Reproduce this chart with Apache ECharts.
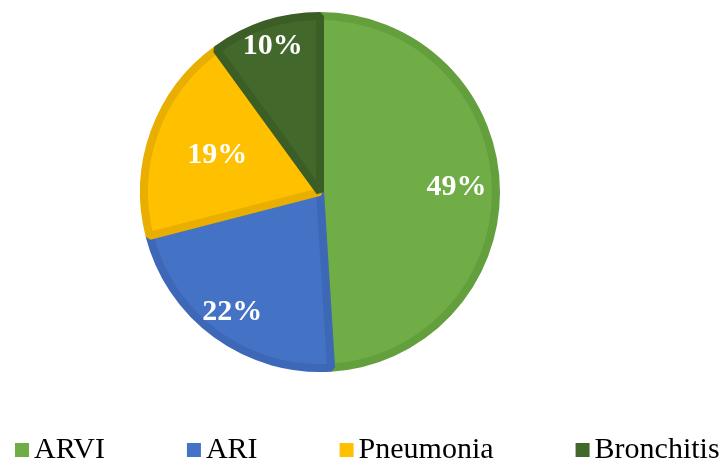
<!DOCTYPE html>
<html>
<head>
<meta charset="utf-8">
<script src="https://cdn.jsdelivr.net/npm/echarts@6/dist/echarts.min.js"></script>
<style>
  html, body { margin: 0; padding: 0; background: #fff; }
  #main { width: 720px; height: 462px; }
</style>
</head>
<body>
<div id="main"></div>
<script>
var categories = ['ARVI', 'ARI', 'Pneumonia', 'Bronchitis'];
var values = [49, 22, 19, 10];
var colors = ['#70AD47', '#4472C4', '#FFC000', '#43682B'];
var borders = ['#63A03D', '#3D68B8', '#E8AE00', '#3B5D26'];
// how far out each label sits, relative to the default inside spot
var labelPush = [1.5, 1.64, 1.2, 1.68];

var cx = 320, cy = 192;

var myChart = echarts.init(document.getElementById('main'));
var option = {
    animation: false,
    legend: {
        top: 430,
        left: 10,
        width: 710,
        icon: 'rect',
        itemWidth: 14,
        itemHeight: 14,
        itemGap: 82,
        itemStyle: { borderWidth: 0 },
        textStyle: {
            fontFamily: 'Liberation Serif',
            fontSize: 30,
            color: '#000'
        },
        data: categories
    },
    series: [{
        type: 'pie',
        center: [cx, cy],
        radius: 176,
        startAngle: 90,
        clockwise: true,
        label: {
            show: true,
            position: 'inside',
            formatter: '{c}%',
            color: '#fff',
            fontFamily: 'Liberation Serif',
            fontWeight: 'bold',
            fontSize: 30
        },
        labelLine: { show: false },
        labelLayout: function (p) {
            var r = p.labelRect;
            var lx = r.x + r.width / 2, ly = r.y + r.height / 2;
            var k = labelPush[p.dataIndex] - 1;
            return { dx: (lx - cx) * k, dy: (ly - cy) * k };
        },
        emphasis: { disabled: true },
        data: categories.map(function (c, i) {
            return {
                name: c,
                value: values[i],
                itemStyle: {
                    color: colors[i],
                    borderColor: borders[i],
                    borderWidth: 8,
                    borderJoin: 'bevel'
                }
            };
        })
    }]
};
myChart.setOption(option);
</script>
</body>
</html>
